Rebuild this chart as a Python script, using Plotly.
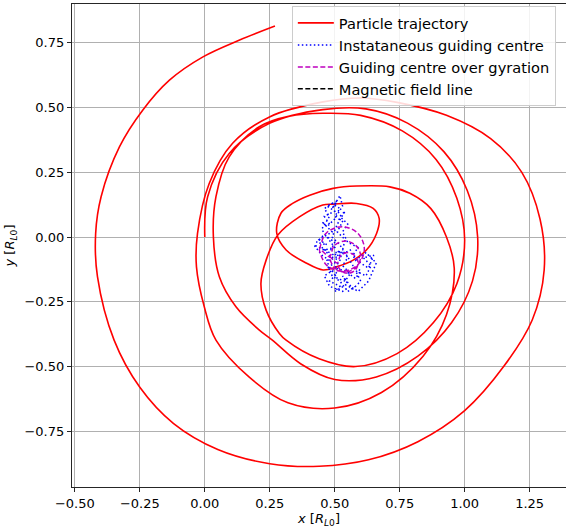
import plotly.graph_objects as go

# ---- data ----
traj_x = [0.000, 0.011, 0.094, 0.249, 0.454, 0.62, 0.78, 0.92, 1.01, 1.05, 1.03, 0.95, 0.82, 0.66, 0.50, 0.37,
          0.26, 0.21, 0.12, 0.056, 0.033, 0.043, 0.094, 0.21, 0.326, 0.454,
          0.60, 0.76, 0.89, 0.97, 1.00, 0.97, 0.88, 0.74, 0.58, 0.44,
          0.313, 0.287, 0.236, 0.216, 0.236, 0.281, 0.364, 0.454, 0.494, 0.584, 0.648, 0.671, 0.661, 0.622, 0.571, 0.507, 0.455,
          0.39, 0.313, 0.277, 0.293, 0.338, 0.404, 0.494, 0.584, 0.712, 0.789,
          0.87, 0.93, 0.96, 0.93, 0.84, 0.68, 0.50, 0.32, 0.17,
          0.043, -0.002, -0.032, -0.028, 0.017, 0.107, 0.249, 0.455,
          0.60, 0.74, 0.93, 1.10, 1.22, 1.29, 1.306, 1.26, 1.15, 1.00, 0.82, 0.63, 0.44, 0.25, 0.05, -0.12, -0.25,
          -0.349, -0.413, -0.42, -0.399, -0.328, -0.239, -0.136, -0.007, 0.134, 0.27]
traj_y = [0.000, 0.156, 0.323, 0.439, 0.492, 0.495, 0.44, 0.33, 0.18, 0.00, -0.17, -0.33, -0.46, -0.54, -0.55, -0.49,
          -0.398, -0.359, -0.269, -0.153, 0.001, 0.156, 0.31, 0.426, 0.467, 0.478,
          0.47, 0.41, 0.30, 0.15, -0.01, -0.18, -0.33, -0.45, -0.50, -0.47,
          -0.398, -0.372, -0.282, -0.179, -0.089, 0.008, 0.078, 0.124, 0.127, 0.13, 0.111, 0.072, 0.014, -0.05, -0.089, -0.115, -0.127,
          -0.10, -0.05, 0.014, 0.092, 0.13, 0.162, 0.188, 0.197, 0.194, 0.169,
          0.11, 0.00, -0.12, -0.30, -0.46, -0.60, -0.66, -0.64, -0.54,
          -0.398, -0.269, -0.115, 0.014, 0.207, 0.362, 0.464, 0.522,
          0.537, 0.52, 0.47, 0.38, 0.25, 0.07, -0.127, -0.32, -0.50, -0.67, -0.79, -0.86, -0.885, -0.875, -0.82, -0.72, -0.58,
          -0.398, -0.153, 0.014, 0.156, 0.349, 0.49, 0.606, 0.696, 0.761, 0.815]

gc_x = [0.48, 0.46, 0.50, 0.47, 0.51, 0.49, 0.52, 0.53, 0.50, 0.47, 0.45, 0.49, 0.44, 0.47, 0.43, 0.46, 0.50, 0.48,
        0.45, 0.49, 0.52, 0.50, 0.47, 0.51, 0.48, 0.52, 0.50, 0.55, 0.53, 0.57, 0.60, 0.58, 0.62, 0.64, 0.61, 0.65,
        0.63, 0.60, 0.57, 0.59, 0.55, 0.53, 0.55, 0.52, 0.54, 0.51, 0.49, 0.52, 0.55, 0.53, 0.56, 0.54, 0.51, 0.49,
        0.46, 0.48, 0.53, 0.56, 0.59, 0.61, 0.63, 0.66, 0.62, 0.58, 0.56, 0.52, 0.48, 0.45, 0.42, 0.46, 0.50, 0.47,
        0.45, 0.48, 0.46, 0.49, 0.52, 0.50, 0.53, 0.51, 0.54, 0.52, 0.50, 0.54, 0.58, 0.60, 0.57, 0.54, 0.50, 0.47,
        0.49, 0.52, 0.55, 0.58]
gc_y = [0.05, 0.08, 0.10, 0.12, 0.14, 0.11, 0.16, 0.12, 0.07, 0.04, 0.06, 0.02, -0.01, -0.03, -0.02, 0.01, -0.02, -0.06,
        -0.04, -0.08, -0.05, -0.10, -0.12, -0.14, -0.17, -0.19, -0.21, -0.18, -0.15, -0.20, -0.17, -0.13, -0.15, -0.11, -0.08, -0.07,
        -0.12, -0.10, -0.07, -0.04, -0.02, 0.02, 0.05, 0.08, 0.10, 0.05, 0.00, -0.03, -0.08, -0.11, -0.14, -0.17, -0.16, -0.13,
        -0.15, -0.19, -0.21, -0.19, -0.21, -0.19, -0.17, -0.10, -0.06, -0.09, -0.05, -0.07, -0.09, -0.07, -0.03, -0.05, -0.04, 0.00,
        0.03, 0.08, 0.11, 0.13, 0.11, 0.08, 0.06, 0.02, -0.01, -0.09, -0.12, -0.13, -0.16, -0.13, -0.11, -0.06, -0.06, -0.09,
        -0.15, -0.17, -0.21, -0.19]

gyr_x = [0.442, 0.467, 0.528, 0.589, 0.614, 0.589, 0.528, 0.467, 0.442,
         0.48, 0.498, 0.54, 0.582, 0.60, 0.582, 0.54, 0.498, 0.48,
         0.51, 0.522, 0.55, 0.578, 0.59, 0.578, 0.55, 0.522, 0.51]
gyr_y = [-0.046, 0.015, 0.040, 0.015, -0.046, -0.107, -0.132, -0.107, -0.046,
         -0.075, -0.033, -0.015, -0.033, -0.075, -0.117, -0.135, -0.117, -0.075,
         -0.100, -0.072, -0.060, -0.072, -0.100, -0.128, -0.140, -0.128, -0.100]

field_x = [0.528, 0.528]
field_y = [-0.046, -0.046]

x_ticks = [-0.5, -0.25, 0.0, 0.25, 0.5, 0.75, 1.0, 1.25]
y_ticks = [-0.75, -0.5, -0.25, 0.0, 0.25, 0.5, 0.75]

FONT = "DejaVu Sans"

fig = go.Figure()
fig.add_trace(go.Scatter(x=traj_x, y=traj_y, mode="lines", name="Particle trajectory",
                         line=dict(color="#ff0000", width=1.6, shape="spline", smoothing=1.0)))
fig.add_trace(go.Scatter(x=gc_x, y=gc_y, mode="lines", name="Instataneous guiding centre",
                         line=dict(color="#0000ff", width=1.5, dash="1.5px,2.5px")))
fig.add_trace(go.Scatter(x=gyr_x, y=gyr_y, mode="lines", name="Guiding centre over gyration",
                         line=dict(color="#bf00bf", width=1.5, dash="5px,2.5px", shape="spline")))
fig.add_trace(go.Scatter(x=field_x, y=field_y, mode="lines", name="Magnetic field line",
                         line=dict(color="#000000", width=1.5, dash="5px,2.5px")))

axis_common = dict(
    showgrid=True, gridcolor="#b0b0b0", gridwidth=1.2,
    zeroline=False, showline=True, linecolor="#262626", linewidth=1.2,
    ticks="outside", ticklen=4, tickwidth=1, tickcolor="#262626",
    tickformat=".2f", tickfont=dict(family=FONT, size=13, color="#000000"),
)

fig.update_layout(
    width=566, height=529,
    margin=dict(l=72, r=0, t=4, b=42),
    paper_bgcolor="white", plot_bgcolor="white",
    font=dict(family=FONT, size=13, color="#000000"),
    xaxis=dict(range=[-0.511, 1.39], tickvals=x_ticks, mirror=True,
               title=dict(text="<i>x</i> [<i>R</i><sub><i>L</i>0</sub>]", standoff=4,
                          font=dict(family=FONT, size=13)),
               automargin=False, **axis_common),
    yaxis=dict(range=[-0.965, 0.90], tickvals=y_ticks, mirror=False,
               title=dict(text="<i>y</i> [<i>R</i><sub><i>L</i>0</sub>]", standoff=6,
                          font=dict(family=FONT, size=13)),
               automargin=False, **axis_common),
    legend=dict(x=0.445, y=0.996, xanchor="left", yanchor="top",
                bgcolor="rgba(255,255,255,0.85)", bordercolor="#cccccc", borderwidth=1,
                font=dict(family=FONT, size=14.6), itemwidth=36, tracegroupgap=0),
    showlegend=True,
)

fig.write_html("out.html")
